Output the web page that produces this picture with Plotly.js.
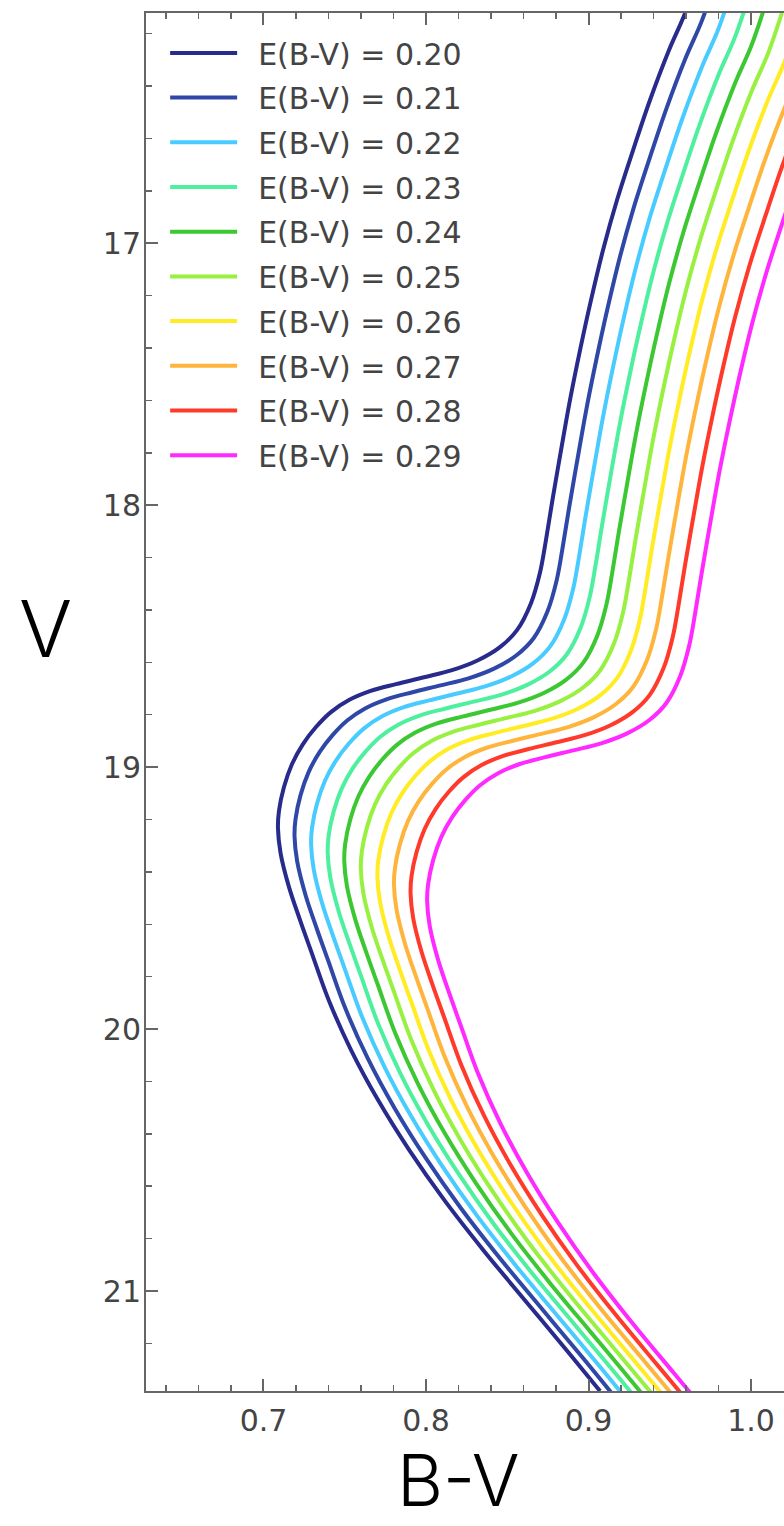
<!DOCTYPE html>
<html><head><meta charset="utf-8">
<script src="https://cdn.plot.ly/plotly-3.0.1.min.js"></script>
<style>html,body{margin:0;padding:0;background:#fff;overflow:hidden}#chart{width:784px;height:1526px}</style>
</head><body><div id="chart"></div>
<script>
// E(B-V) values of the ten isochrones
const ebvLabels = ['0.20','0.21','0.22','0.23','0.24','0.25','0.26','0.27','0.28','0.29'];
const lineColors = ['#282a8c','#2f48a8','#48ccff','#4ef0a0','#3cc832','#98f040','#ffec22','#ffb43c','#ff3a2a','#ff2aff'];
// isochrone for E(B-V)=0.20 (B-V, V)
const baseBV = [0.9680,0.9594,0.9495,0.9378,0.9274,0.9175,0.9089,0.9015,0.8948,0.8886,0.8831,0.8778,0.8738,0.8702,0.8646,0.8560,0.8455,0.8320,0.8160,0.7988,0.7815,0.7655,0.7526,0.7415,0.7323,0.7243,0.7175,0.7126,0.7095,0.7089,0.7105,0.7157,0.7225,0.7295,0.7401,0.7539,0.7705,0.7897,0.8113,0.8353,0.8607,0.8864,0.9071];
const baseV  = [15.966,16.122,16.263,16.454,16.645,16.836,17.027,17.218,17.408,17.599,17.790,17.981,18.134,18.256,18.374,18.477,18.542,18.592,18.630,18.657,18.683,18.710,18.744,18.790,18.847,18.912,18.989,19.076,19.168,19.233,19.328,19.458,19.584,19.706,19.889,20.080,20.271,20.462,20.653,20.844,21.034,21.225,21.382];
// offsets of each isochrone relative to the first one
const dBV = [0,0.0102,0.0204,0.0306,0.0408,0.0510,0.0612,0.0714,0.0816,0.0918];
const dV  = [0,0.031,0.062,0.093,0.124,0.155,0.186,0.217,0.248,0.279];
const xTickVals = [0.7,0.8,0.9,1.0];
const xTickText = ['0.7','0.8','0.9','1.0'];
const yTickVals = [17,18,19,20,21];
const yTickText = ['17','18','19','20','21'];
const xTitle = 'B-V';
const yTitle = 'V';

const traces = ebvLabels.map((lab,i)=>({
  type:'scatter', mode:'lines',
  x: baseBV.map(v=>v+dBV[i]),
  y: baseV.map(v=>v+dV[i]),
  name: 'E(B-V) = '+lab,
  legendgroup: 'g'+i,
  line:{color:lineColors[i], width:4, shape:'spline', smoothing:1},
  hoverinfo:'skip'
}));

const axisCommon = {
  ticks:'inside', ticklen:12, tickwidth:2, tickcolor:'#666',
  showline:true, linecolor:'#666', linewidth:2,
  showgrid:false, zeroline:false,
  tickfont:{family:'DejaVu Sans', size:30, color:'#444'}
};
const titleFont = {family:'Inter, Roboto', size:79, weight:300, color:'#000'};

const layout = {
  width:784, height:1526,
  margin:{l:146, r:0, t:13, b:135, pad:0},
  paper_bgcolor:'#fff', plot_bgcolor:'#fff',
  font:{family:'DejaVu Sans', color:'#444'},
  showlegend:true,
  legend:{x:0.03, y:0.9899, xanchor:'left', yanchor:'top', bgcolor:'rgba(0,0,0,0)', borderwidth:0,
          font:{family:'DejaVu Sans', size:30, color:'#444'}, itemwidth:83, tracegroupgap:2.7},
  xaxis:Object.assign({}, axisCommon, {
    range:[0.6277,1.0203], autorange:false, tickmode:'array', tickvals:xTickVals, ticktext:xTickText,
    mirror:'ticks', ticklabelstandoff:2,
    minor:{tickmode:'linear', tick0:0.6, dtick:0.02, ticks:'inside', ticklen:6, tickwidth:1.5, tickcolor:'#666', showgrid:false}
  }),
  yaxis:Object.assign({}, axisCommon, {
    range:[21.3817,16.121], autorange:false, tickmode:'array', tickvals:yTickVals, ticktext:yTickText,
    mirror:false, ticklabelstandoff:-3,
    minor:{tickmode:'linear', tick0:16, dtick:0.2, ticks:'inside', ticklen:6, tickwidth:1.5, tickcolor:'#666', showgrid:false}
  }),
  annotations:[
    {text:yTitle, xref:'paper', yref:'paper', x:-0.1583, y:0.5537, xanchor:'center', yanchor:'middle',
     showarrow:false, font:titleFont},
    {text:xTitle, xref:'paper', yref:'paper', x:0.4898, y:-0.0972, xanchor:'center', yanchor:'bottom',
     showarrow:false, font:Object.assign({}, titleFont, {size:71})}
  ]
};

Plotly.newPlot('chart', traces, layout, {displayModeBar:false, staticPlot:true}).then(gd=>{
  gd.querySelectorAll('.legend .legendlines path').forEach(p=>p.setAttribute('d','M5,0h67'));
});
</script></body></html>
